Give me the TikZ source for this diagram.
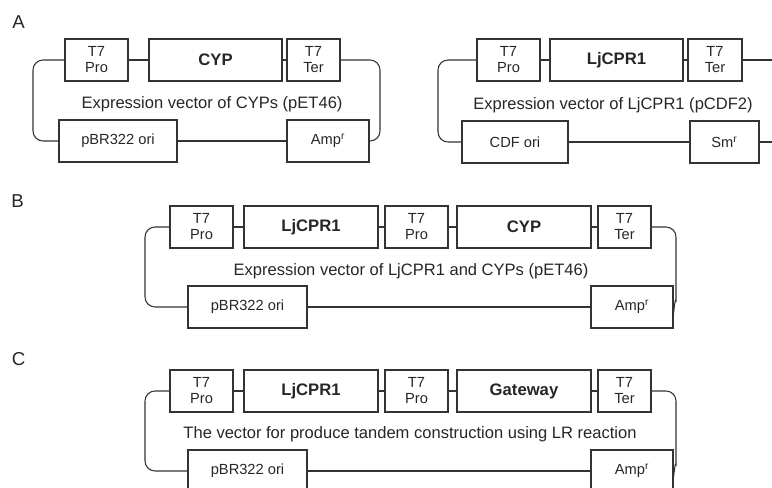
\documentclass[tikz,border=0pt]{standalone}
\usepackage{fontspec}
\setmainfont{Liberation Sans}
\begin{document}
\begin{tikzpicture}[x=0.75pt,y=0.75pt,yscale=-1,xscale=1,
        elem/.style={draw=black!80, line width=0.8pt, minimum height=31.5pt, inner sep=0pt, align=center, text=black!85, font=\fontsize{11}{12}\selectfont},
        gene/.style={elem, font=\fontsize{12.5}{14}\selectfont\bfseries},
        wire/.style={draw=black!80, line width=0.8pt, rounded corners=7.5pt},
        vectext/.style={text=black!85, inner sep=0.75pt, font=\fontsize{12.4}{14}\selectfont},
        panel/.style={text=black!85, inner sep=0pt, font=\fontsize{14}{16}\selectfont}]
        \useasboundingbox (0,0) rectangle (772,488);
        \clip (0,0) rectangle (772,488);
        % Text Node
        \draw (18.5,22.5) node [panel] (labA) {A};
        % Text Node
        \draw (17.5,201) node [panel] (labB) {B};
        % Text Node
        \draw (18.5,359.5) node [panel] (labC) {C};
        %Shape: Rectangle [pET46, CYP]
        \draw (96.5,60) node [elem, minimum width=47.25pt] (aPro) {T7\\Pro};
        \draw (215.5,60) node [gene, minimum width=99.75pt] (aCyp) {CYP};
        \draw (313.5,60) node [elem, minimum width=39.75pt] (aTer) {T7\\Ter};
        \draw (118,141) node [elem, minimum width=88.5pt] (aOri) {pBR322 ori};
        \draw (328,141) node [elem, minimum width=61.5pt] (aAmp) {Amp\textsuperscript{r}};
        % Text Node
        \draw (212,104) node [vectext] (aTxt) {Expression vector of CYPs (pET46)};
        %Straight Lines
        \draw [wire] (aPro) -- (aCyp);
        \draw [wire] (aCyp) -- (aTer);
        \draw [wire] (aOri) -- (aAmp);
        \draw [wire] (aPro.west) -| (33,100) |- (aOri.west);
        \draw [wire] (aTer.east) -| (380,100) |- (aAmp.east);
        %Shape: Rectangle [pCDF2, LjCPR1]
        \draw (508.5,60) node [elem, minimum width=47.25pt] (bPro) {T7\\Pro};
        \draw (616.5,60) node [gene, minimum width=99.75pt] (bLj) {LjCPR1};
        \draw (715,60) node [elem, minimum width=40.5pt] (bTer) {T7\\Ter};
        \draw (515,142) node [elem, minimum width=79.5pt] (bOri) {CDF ori};
        \draw (724.5,142) node [elem, minimum width=51.75pt] (bSm) {Sm\textsuperscript{r}};
        % Text Node
        \draw (613,105) node [vectext] (bTxt) {Expression vector of LjCPR1 (pCDF2)};
        \coordinate (bOutT) at (772,60);
        \coordinate (bOutB) at (772,142);
        %Straight Lines
        \draw [wire] (bPro) -- (bLj);
        \draw [wire] (bLj) -- (bTer);
        \draw [wire] (bOri) -- (bSm);
        \draw [wire] (bTer) -- (bOutT);
        \draw [wire] (bSm) -- (bOutB);
        \draw [wire] (bPro.west) -| (438,100) |- (bOri.west);
        %Shape: Rectangle [pET46, LjCPR1 and CYP]
        \draw (201.5,227) node [elem, minimum width=47.25pt] (cPro) {T7\\Pro};
        \draw (311,227) node [gene, minimum width=100.5pt] (cLj) {LjCPR1};
        \draw (416.5,227) node [elem, minimum width=47.25pt] (cProB) {T7\\Pro};
        \draw (524,227) node [gene, minimum width=100.5pt] (cCyp) {CYP};
        \draw (624.5,227) node [elem, minimum width=39.75pt] (cTer) {T7\\Ter};
        \draw (247.5,307) node [elem, minimum width=89.25pt] (cOri) {pBR322 ori};
        \draw (632,307) node [elem, minimum width=61.5pt] (cAmp) {Amp\textsuperscript{r}};
        % Text Node
        \draw (411,271) node [vectext] (cTxt) {Expression vector of LjCPR1 and CYPs (pET46)};
        %Straight Lines
        \draw [wire] (cPro) -- (cLj);
        \draw [wire] (cLj) -- (cProB);
        \draw [wire] (cProB) -- (cCyp);
        \draw [wire] (cCyp) -- (cTer);
        \draw [wire] (cOri) -- (cAmp);
        \draw [wire] (cPro.west) -| (145,270) |- (cOri.west);
        \draw [wire] (cTer.east) -| (676,292) .. controls (676,297) and (675,299) .. ([yshift=5pt]cAmp.east);
        %Shape: Rectangle [tandem, Gateway]
        \draw (201.5,391) node [elem, minimum width=47.25pt] (dPro) {T7\\Pro};
        \draw (311,391) node [gene, minimum width=100.5pt] (dLj) {LjCPR1};
        \draw (416.5,391) node [elem, minimum width=47.25pt] (dProB) {T7\\Pro};
        \draw (524,391) node [gene, minimum width=100.5pt] (dGw) {Gateway};
        \draw (624.5,391) node [elem, minimum width=39.75pt] (dTer) {T7\\Ter};
        \draw (247.5,471) node [elem, minimum width=89.25pt] (dOri) {pBR322 ori};
        \draw (632,471) node [elem, minimum width=61.5pt] (dAmp) {Amp\textsuperscript{r}};
        % Text Node
        \draw (410,434) node [vectext] (dTxt) {The vector for produce tandem construction using LR reaction};
        %Straight Lines
        \draw [wire] (dPro) -- (dLj);
        \draw [wire] (dLj) -- (dProB);
        \draw [wire] (dProB) -- (dGw);
        \draw [wire] (dGw) -- (dTer);
        \draw [wire] (dOri) -- (dAmp);
        \draw [wire] (dPro.west) -| (145,434) |- (dOri.west);
        \draw [wire] (dTer.east) -| (676,456) .. controls (676,461) and (675,463) .. ([yshift=5pt]dAmp.east);
    \end{tikzpicture}
\end{document}
